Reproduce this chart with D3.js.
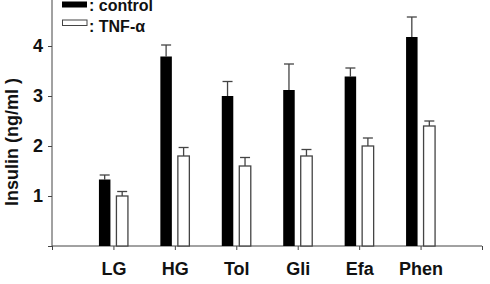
<!DOCTYPE html>
<html>
<head>
<meta charset="utf-8">
<script src="https://cdn.jsdelivr.net/npm/d3@7"></script>
<style>
  body { margin: 0; background: #fff; }
  text { font-family: "Liberation Sans", Arial, sans-serif; font-weight: bold; }
</style>
</head>
<body>
<div id="chart"></div>
<script>
var categories = ["LG", "HG", "Tol", "Gli", "Efa", "Phen"];
var controlValues = [1.33, 3.79, 3.0, 3.12, 3.39, 4.18];
var controlErrors = [0.09, 0.23, 0.29, 0.52, 0.17, 0.4];
var tnfValues = [1.0, 1.8, 1.6, 1.8, 2.0, 2.4];
var tnfErrors = [0.09, 0.17, 0.17, 0.13, 0.16, 0.1];
var yTicks = [1, 2, 3, 4];
var seriesNames = [": control", ": TNF-\u03b1"];

var width = 490, height = 284;
var left = 52, right = 482, bottom = 246;

var svg = d3.select("#chart")
  .append("svg")
  .attr("width", width)
  .attr("height", height);

var x = d3.scaleLinear().domain([0, categories.length + 1]).range([left, right]);
var y = d3.scaleLinear().domain([0, 5]).range([bottom, bottom - 250]);

var barW = 11.5, gap = 3;

// axes
var xAxis = d3.axisBottom(x)
  .tickValues(d3.range(0, categories.length + 2))
  .tickSize(4)
  .tickFormat(function(d) { return (d >= 1 && d <= categories.length) ? categories[d - 1] : ""; });

var gx = svg.append("g")
  .attr("transform", "translate(0," + bottom + ")")
  .call(xAxis);
gx.select(".domain").attr("d", "M" + left + ",0H" + right).attr("stroke", "#444");
gx.selectAll("line").attr("stroke", "#444").attr("y1", 0).attr("y2", 4);
gx.selectAll("text").attr("y", 16).attr("font-size", 18).attr("fill", "#111");

var gy = svg.append("g")
  .attr("transform", "translate(" + left + ",0)")
  .call(d3.axisLeft(y).tickValues([0].concat(yTicks)).tickSize(4)
    .tickFormat(function(d) { return d === 0 ? "" : d; }));
gy.select(".domain").attr("d", "M0," + bottom + "V0").attr("stroke", "#444");
gy.selectAll("line").attr("stroke", "#444");
gy.selectAll("text").attr("x", -9).attr("font-size", 18).attr("fill", "#111");

// y label
svg.append("text")
  .attr("transform", "translate(18,142) rotate(-90)")
  .attr("text-anchor", "middle")
  .attr("font-size", 18)
  .attr("fill", "#111")
  .text("Insulin (ng/ml )");

// bars
var idx = d3.range(categories.length);

function errorBars(vals, errs, cxf) {
  var g = svg.append("g").attr("stroke", "#444").attr("stroke-width", 1.3);
  g.selectAll(".v").data(idx).enter().append("line")
    .attr("x1", cxf).attr("x2", cxf)
    .attr("y1", function(i) { return y(vals[i]); })
    .attr("y2", function(i) { return y(vals[i] + errs[i]); });
  g.selectAll(".c").data(idx).enter().append("line")
    .attr("x1", function(i) { return cxf(i) - 5; })
    .attr("x2", function(i) { return cxf(i) + 5; })
    .attr("y1", function(i) { return y(vals[i] + errs[i]); })
    .attr("y2", function(i) { return y(vals[i] + errs[i]); });
}

errorBars(controlValues, controlErrors, function(i) { return x(i + 1) - gap - barW / 2; });
errorBars(tnfValues, tnfErrors, function(i) { return x(i + 1) + gap + barW / 2; });

svg.append("g").selectAll("rect").data(idx).enter().append("rect")
  .attr("x", function(i) { return x(i + 1) - gap - barW; })
  .attr("y", function(i) { return y(controlValues[i]); })
  .attr("width", barW)
  .attr("height", function(i) { return y(0) - y(controlValues[i]); })
  .attr("fill", "#000");

svg.append("g").selectAll("rect").data(idx).enter().append("rect")
  .attr("x", function(i) { return x(i + 1) + gap; })
  .attr("y", function(i) { return y(tnfValues[i]); })
  .attr("width", barW)
  .attr("height", function(i) { return y(0) - y(tnfValues[i]); })
  .attr("fill", "#fff")
  .attr("stroke", "#444")
  .attr("stroke-width", 1.3);

// legend
var legend = svg.append("g");
legend.append("rect").attr("x", 62).attr("y", 1.5).attr("width", 25).attr("height", 6).attr("fill", "#000");
legend.append("rect").attr("x", 62.5).attr("y", 20).attr("width", 24.5).attr("height", 5.5)
  .attr("fill", "#fff").attr("stroke", "#444").attr("stroke-width", 1);
legend.selectAll("text").data(seriesNames).enter().append("text")
  .attr("x", 89)
  .attr("y", function(d, i) { return 11 + i * 21; })
  .attr("font-size", 16)
  .attr("fill", "#111")
  .text(function(d) { return d; });
</script>
</body>
</html>
